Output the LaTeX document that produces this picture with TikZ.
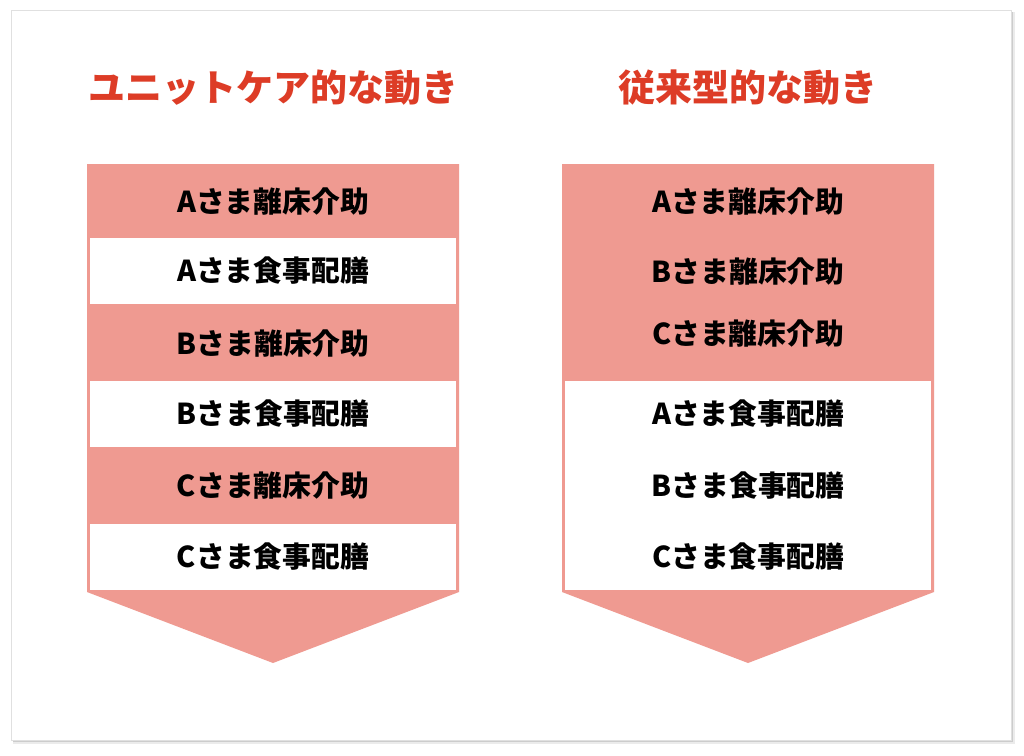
\documentclass[tikz,border=0pt]{standalone}
\usepackage{fontspec}
\newfontfamily\jpfont{Noto Sans CJK JP}
\usepackage{xcolor}
\usetikzlibrary{positioning}
\definecolor{salmon}{RGB}{239,154,145}
\definecolor{titlered}{RGB}{221,60,38}

\begin{document}
\begin{tikzpicture}[x=1pt,y=-1pt,
  task/.style={font=\jpfont\bfseries\fontsize{28.8}{32}\selectfont,text=black,inner sep=0pt},
  mealbox/.style={task,fill=white,minimum width=366pt,minimum height=66pt},
  heading/.style={font=\jpfont\bfseries\fontsize{37}{40}\selectfont,text=titlered}]
\useasboundingbox(0,0) rectangle (1024,755);
% frame with shadow
\fill[black!8](13,12) rectangle (1015,744);
\fill[black!20](13,12) rectangle (1013,742);
\fill[white,draw=black!12](11,10) rectangle (1011,740);

% left: unit care
\fill[salmon](87,164)--(459,164)--(459,592)--(273,663)--(87,592)--cycle;
\node[heading](unit) at (273,88){ユニットケア的な動き};
\node[task](uAlift) at (273,202){Aさま離床介助};
\node[mealbox](uAmeal) at (273,271){Aさま食事配膳};
\node[task](uBlift) at (273,344){Bさま離床介助};
\node[mealbox](uBmeal) at (273,414){Bさま食事配膳};
\node[task](uClift) at (273,486){Cさま離床介助};
\node[mealbox](uCmeal) at (273,557){Cさま食事配膳};

% right: conventional
\fill[salmon](562,164)--(934,164)--(934,592)--(748,663)--(562,592)--cycle;
\fill[white](565,381) rectangle (931,590);
\node[heading](conv) at (748,88){従来型的な動き};
\node[task](cAlift) at (748,202){Aさま離床介助};
\node[task](cBlift) at (748,272){Bさま離床介助};
\node[task](cClift) at (748,334){Cさま離床介助};
\node[task](cAmeal) at (748,414){Aさま食事配膳};
\node[task](cBmeal) at (748,486){Bさま食事配膳};
\node[task](cCmeal) at (748,557){Cさま食事配膳};
\end{tikzpicture}
\end{document}
